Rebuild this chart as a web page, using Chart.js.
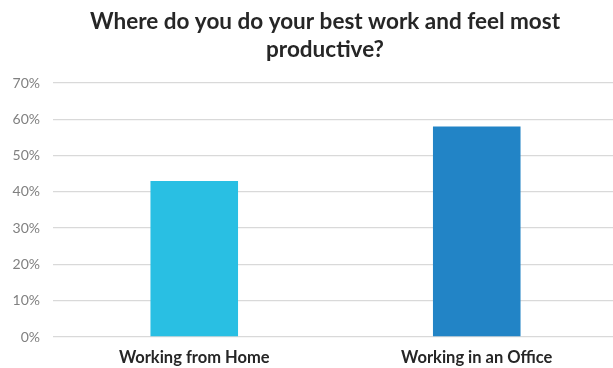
<!DOCTYPE html>
<html>
<head>
<meta charset="utf-8">
<script src="https://cdn.jsdelivr.net/npm/chart.js@4/dist/chart.umd.min.js"></script>
<style>
  html, body { margin: 0; padding: 0; background: #fff; overflow: hidden; }
  #wrap { width: 618px; height: 368px; }
</style>
</head>
<body>
<div id="wrap"><canvas id="chart" width="618" height="368"></canvas></div>
<script>
// Survey answers (share of respondents, %)
const categories = ['Working from Home', 'Working in an Office'];
const shares = [43, 58];
const barColors = ['#29BFE3', '#2284C6'];
const titleLines = ['Where do you do your best work and feel most', 'productive?'];
const yMax = 70;
const yStep = 10;

// Two-line heading, centred a little right of the canvas middle
const headingPlugin = {
  id: 'heading',
  afterDraw(chart, args, opts) {
    const ctx = chart.ctx;
    ctx.save();
    ctx.fillStyle = opts.color;
    ctx.font = `bold ${opts.size}px ${opts.family}`;
    ctx.textAlign = 'center';
    ctx.textBaseline = 'middle';
    opts.lines.forEach((line, i) => {
      ctx.fillText(line, opts.centerX, opts.top + opts.lineHeight * (i + 0.5));
    });
    ctx.restore();
  }
};

new Chart(document.getElementById('chart'), {
  type: 'bar',
  data: {
    labels: categories,
    datasets: [{
      data: shares,
      backgroundColor: barColors,
      borderWidth: 0,
      barPercentage: 0.31,
      categoryPercentage: 1.0
    }]
  },
  options: {
    responsive: false,
    animation: false,
    layout: { padding: { left: 0, right: 0, top: 83, bottom: 0 } },
    plugins: {
      legend: { display: false },
      tooltip: { enabled: false },
      title: { display: false },
      heading: {
        lines: titleLines,
        color: '#262626',
        family: 'Lato',
        size: 22.5,
        lineHeight: 27.9,
        top: 8,
        centerX: 325
      }
    },
    scales: {
      x: {
        grid: { display: false, drawTicks: false },
        border: { display: false },
        ticks: {
          color: '#262626',
          font: { family: 'Lato', size: 16.5, weight: 'bold' },
          padding: 11
        },
        afterFit: (scale) => { scale.height = 31; }
      },
      y: {
        min: 0,
        max: yMax,
        grid: { color: '#d9d9d9', lineWidth: 1.3, drawTicks: false },
        border: { display: false },
        ticks: {
          stepSize: yStep,
          color: '#808080',
          font: { family: 'Lato', size: 14 },
          padding: 13,
          callback: (v) => v + '%'
        },
        afterFit: (scale) => { scale.width = 53; }
      }
    }
  },
  plugins: [headingPlugin]
});
</script>
</body>
</html>
